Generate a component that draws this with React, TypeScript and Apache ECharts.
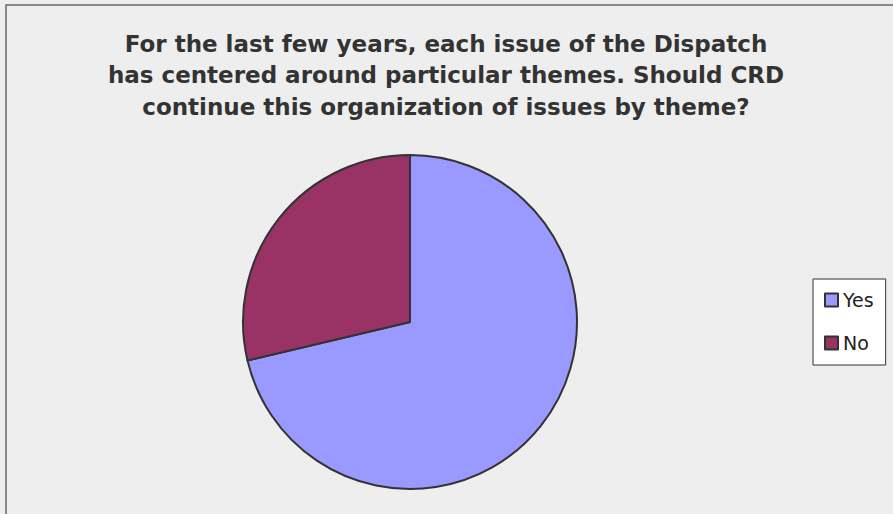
import React, { useEffect, useRef } from "react";
import * as echarts from "echarts";

const titleLines = [
  "For the last few years, each issue of the Dispatch",
  "has centered around particular themes. Should CRD",
  "continue this organization of issues by theme?",
];
const categories = ["Yes", "No"];
const values = [71.3, 28.7];
const colors = ["#9999FF", "#993366"];

export default function App() {
  const ref = useRef<HTMLDivElement>(null);
  useEffect(() => {
    document.body.style.margin = "0";
    const chart = echarts.init(ref.current!, undefined, { renderer: "svg" });
    chart.setOption({
      animation: false,
      backgroundColor: "#EEEEEE",
      graphic: [
        {
          type: "rect",
          shape: { x: 6, y: 5, width: 900, height: 520 },
          style: { fill: "none", stroke: "#666666", lineWidth: 1.5 },
          silent: true,
        },
      ],
      title: {
        text: titleLines.join("\n"),
        left: 446,
        top: 28,
        padding: 0,
        textAlign: "center",
        textStyle: {
          fontFamily: "DejaVu Sans",
          fontWeight: "bold",
          fontSize: 23,
          lineHeight: 31.5,
          color: "#333333",
        },
      },
      legend: {
        orient: "vertical",
        left: 813,
        top: 279,
        padding: [11.5, 12, 12.5, 11],
        itemGap: 24,
        itemWidth: 13,
        itemHeight: 13,
        itemTextGap: 6,
        icon: "rect",
        backgroundColor: "#FFFFFF",
        borderColor: "#333333",
        borderWidth: 1,
        borderRadius: 0,
        data: categories,
        itemStyle: { borderColor: "#333333", borderWidth: 2 },
        textStyle: { fontFamily: "DejaVu Sans", fontSize: 19, color: "#222222" },
      },
      series: [
        {
          type: "pie",
          center: [410, 322],
          radius: 167,
          startAngle: 90,
          clockwise: true,
          label: { show: false },
          labelLine: { show: false },
          emphasis: { disabled: true },
          itemStyle: { borderColor: "#333333", borderWidth: 2 },
          data: categories.map((name, i) => ({
            name,
            value: values[i],
            itemStyle: { color: colors[i] },
          })),
        },
      ],
    });
    return () => chart.dispose();
  }, []);
  return <div ref={ref} style={{ width: 893, height: 514 }} />;
}
